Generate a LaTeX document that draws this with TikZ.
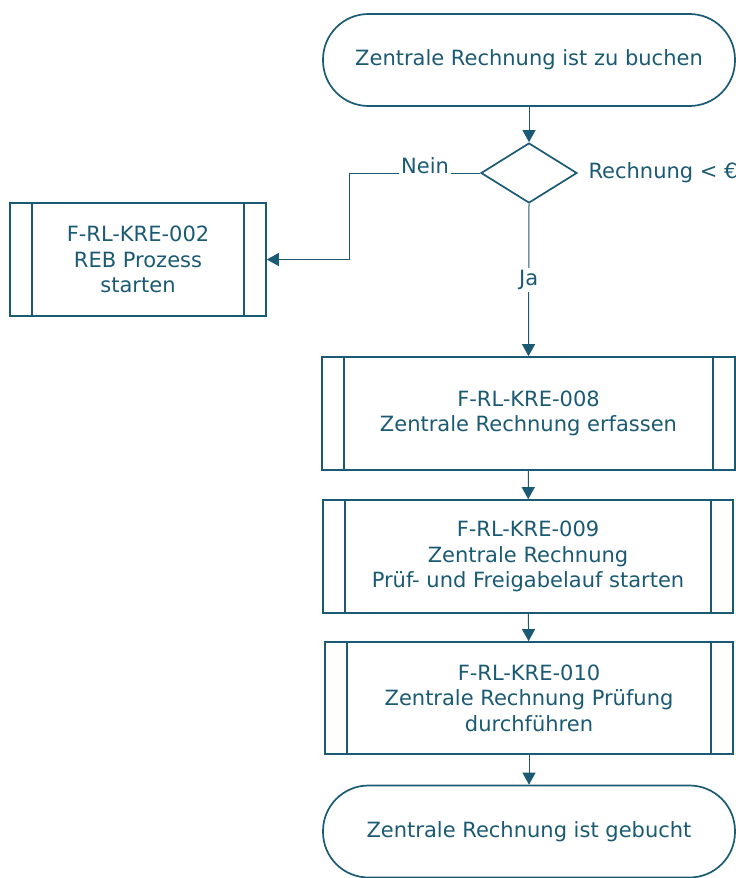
\documentclass[tikz,border=0pt]{standalone}
\usepackage{fontspec}
\setmainfont{DejaVu Sans}
\usetikzlibrary{arrows.meta,shapes.geometric}
\definecolor{petrol}{RGB}{26,90,115}

\begin{document}
\begin{tikzpicture}[x=1pt,y=-1pt,
		every node/.style={text=petrol,font=\fontsize{21}{25.5}\selectfont,align=center},
		terminal/.style={draw=petrol,line width=1.7pt,rounded corners=45.5pt,minimum width=412pt,minimum height=92pt,inner sep=0pt},
		prozess/.style={draw=petrol,line width=1.7pt,minimum height=113pt,inner sep=0pt},
		entscheid/.style={draw=petrol,line width=1.7pt,diamond,minimum width=96pt,minimum height=60pt,inner sep=0pt},
		pfeil/.style={draw=petrol,line width=1pt,-{Triangle[width=13pt,length=12pt]}},
		marke/.style={fill=white,inner sep=2pt}]
		\useasboundingbox (0,0) rectangle (736,878);
		
		\node[terminal] (start) at (529,60) {Zentrale Rechnung ist zu buchen};
		\node[entscheid] (frage) at (529,173) {};
		\node[anchor=west] (bed) at (585,173) {Rechnung < €};
		\node[prozess,minimum width=256pt] (reb) at (138,259.5) {F-RL-KRE-002\\REB Prozess\\starten};
		\node[prozess,minimum width=413pt] (kre8) at (528.5,413.5) {F-RL-KRE-008\\Zentrale Rechnung erfassen};
		\node[prozess,minimum width=410pt] (kre9) at (528,556.5) {F-RL-KRE-009\\Zentrale Rechnung\\Prüf- und Freigabelauf starten};
		\node[prozess,minimum width=408pt,minimum height=112pt] (kre10) at (529,698) {F-RL-KRE-010\\Zentrale Rechnung Prüfung\\durchführen};
		\node[terminal] (ende) at (529,831.5) {Zentrale Rechnung ist gebucht};
		\coordinate (knick) at (349,173);
		
		% innere Linien der Prozesskaesten
		\foreach \n in {reb,kre8,kre9,kre10}
		\draw[petrol,line width=1.7pt] ([xshift=23pt]\n.north west) -- ([xshift=23pt]\n.south west)
		([xshift=-23pt]\n.north east) -- ([xshift=-23pt]\n.south east);
		
		\draw[pfeil] (start) -- (frage);
		\draw[pfeil] (frage.west) -- node[marke,pos=0.42,anchor=base] {Nein} (knick) |- (reb.east);
		\draw[pfeil] (frage.south) -- node[marke] {Ja} (kre8.north);
		\draw[pfeil] (kre8) -- (kre9);
		\draw[pfeil] (kre9) -- (kre10);
		\draw[pfeil] (kre10) -- (ende);
\end{tikzpicture}
\end{document}
